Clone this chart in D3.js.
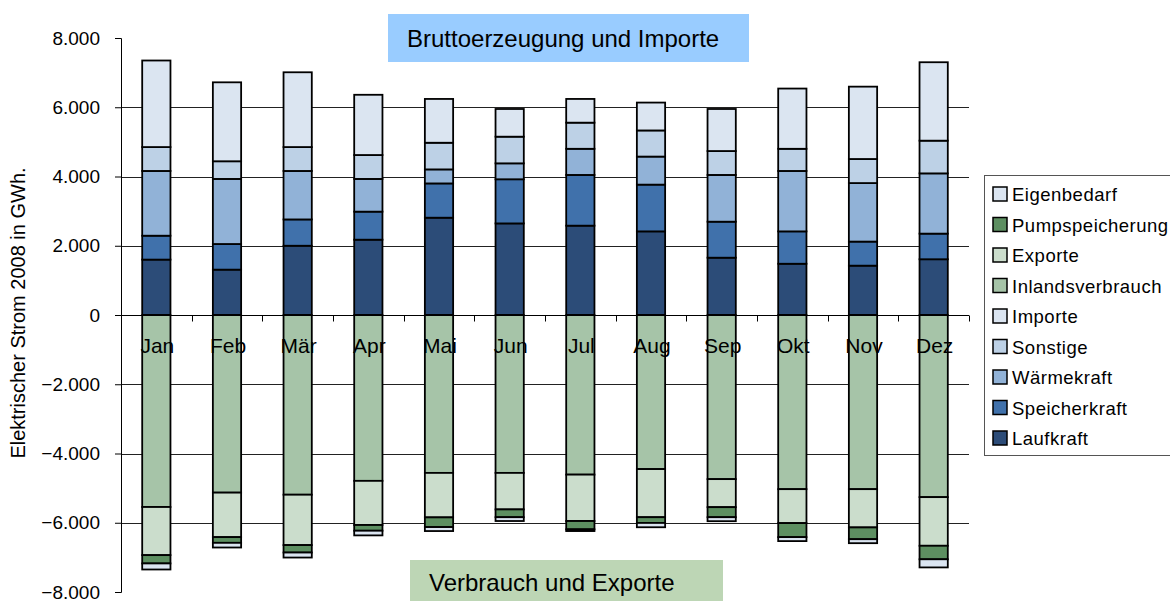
<!DOCTYPE html>
<html>
<head>
<meta charset="utf-8">
<script src="https://cdn.jsdelivr.net/npm/d3@7"></script>
<style>
  body { margin: 0; background: #fff; }
  text { font-family: "Liberation Sans", Arial, sans-serif; fill: #000; }
</style>
</head>
<body>
<svg width="1170" height="601"></svg>
<script>
// months + series (GWh)
var months = ["Jan", "Feb", "Mär", "Apr", "Mai", "Jun", "Jul", "Aug", "Sep", "Okt", "Nov", "Dez"];

var laufkraft       = [1600, 1310, 2000, 2175, 2810, 2645, 2580, 2415, 1655, 1480, 1425, 1610];
var speicherkraft   = [690, 740, 760, 810, 990, 1275, 1465, 1350, 1040, 935, 695, 740];
var waermekraft     = [1870, 1880, 1400, 945, 405, 460, 755, 810, 1350, 1745, 1690, 1740];
var sonstige        = [690, 510, 690, 690, 770, 770, 755, 755, 690, 640, 695, 945];
var importe         = [2500, 2280, 2160, 1740, 1265, 800, 685, 805, 1215, 1740, 2090, 2265];
var inlandsverbrauch = [-5545, -5130, -5190, -4790, -4560, -4560, -4610, -4450, -4740, -5030, -5030, -5260];
var exporte         = [-1390, -1285, -1455, -1275, -1285, -1055, -1340, -1390, -810, -980, -1105, -1405];
var pumpspeicherung = [-240, -165, -215, -165, -280, -225, -240, -165, -290, -405, -340, -390];
var eigenbedarf     = [-175, -135, -145, -135, -115, -110, -50, -125, -115, -115, -115, -235];

var yTicks = [-8000, -6000, -4000, -2000, 0, 2000, 4000, 6000, 8000];

var seriesNames = ["Laufkraft", "Speicherkraft", "Wärmekraft", "Sonstige", "Importe",
                   "Inlandsverbrauch", "Exporte", "Pumpspeicherung", "Eigenbedarf"];
var seriesValues = [laufkraft, speicherkraft, waermekraft, sonstige, importe,
                    inlandsverbrauch, exporte, pumpspeicherung, eigenbedarf];
var colors = ["#2c4c78", "#4071ab", "#91b2d7", "#bdd1e6", "#dbe5f1",
              "#a6c4a8", "#cbddcc", "#5d8f61", "#dbe5f1"];
var legendOrder = ["Eigenbedarf", "Pumpspeicherung", "Exporte", "Inlandsverbrauch",
                   "Importe", "Sonstige", "Wärmekraft", "Speicherkraft", "Laufkraft"];

var rows = months.map(function(m, i) {
  var r = {month: m};
  seriesNames.forEach(function(s, j) { r[s] = seriesValues[j][i]; });
  return r;
});

var svg = d3.select("svg");
var plotLeft = 121, plotRight = 969, plotTop = 38, plotBottom = 592;

var x = d3.scaleBand().domain(months).range([plotLeft, plotRight])
  .paddingInner(0.6).paddingOuter(0.3);
var y = d3.scaleLinear().domain([-8000, 8000]).range([plotBottom, plotTop]);

// gridlines
svg.append("g").selectAll("line")
  .data(yTicks.filter(function(d) { return d != 0 && Math.abs(d) != 8000; }))
  .enter().append("line")
  .attr("x1", plotLeft).attr("x2", plotRight)
  .attr("y1", function(d) { return Math.round(y(d)) + 0.5; })
  .attr("y2", function(d) { return Math.round(y(d)) + 0.5; })
  .attr("stroke", "#222").attr("stroke-width", 1);

// title boxes
svg.append("rect").attr("x", 388).attr("y", 14).attr("width", 361).attr("height", 48).attr("fill", "#99ccff");
svg.append("text").attr("x", 407).attr("y", 47).style("font-size", "24px").text("Bruttoerzeugung und Importe");
svg.append("rect").attr("x", 410).attr("y", 560).attr("width", 313).attr("height", 41).attr("fill", "#bdd6b5");
svg.append("text").attr("x", 429).attr("y", 591).style("font-size", "24px").text("Verbrauch und Exporte");

// stacked bars
var stack = d3.stack().keys(seriesNames).offset(d3.stackOffsetDiverging);
var layers = stack(rows);

svg.append("g").selectAll("g")
  .data(layers)
  .enter().append("g")
  .attr("fill", function(d, i) { return colors[i]; })
  .selectAll("rect")
  .data(function(d) { return d; })
  .enter().append("rect")
  .attr("x", function(d) { return x(d.data.month); })
  .attr("width", x.bandwidth())
  .attr("y", function(d) { return y(Math.max(d[0], d[1])); })
  .attr("height", function(d) { return Math.abs(y(d[0]) - y(d[1])); })
  .attr("stroke", "#000")
  .attr("stroke-width", 1.8);

// y axis
var yAxis = svg.append("g")
  .attr("transform", "translate(" + plotLeft + ",0)")
  .call(d3.axisLeft(y).tickValues(yTicks).tickSize(6).tickPadding(15)
    .tickFormat(function(d) { return d3.format(",")(d).replace(/,/g, "."); }));
yAxis.select(".domain").attr("stroke", "#000");
yAxis.selectAll("line").attr("stroke", "#000");
yAxis.selectAll("text").style("font-size", "19px")
  .style("font-family", "'Liberation Sans', Arial, sans-serif");

// x axis on zero line, ticks at category boundaries
var zeroY = Math.round(y(0)) + 0.5;
svg.append("line").attr("x1", plotLeft).attr("x2", plotRight)
  .attr("y1", zeroY).attr("y2", zeroY).attr("stroke", "#000");
var bounds = months.map(function(m) { return x(m) - x.step() * x.paddingOuter(); });
bounds.push(plotRight);
svg.append("g").selectAll("line")
  .data(bounds).enter().append("line")
  .attr("x1", function(d) { return Math.round(d) + 0.5; })
  .attr("x2", function(d) { return Math.round(d) + 0.5; })
  .attr("y1", zeroY).attr("y2", zeroY + 6)
  .attr("stroke", "#000");

// month labels (drawn over the bars)
svg.append("g").selectAll("text")
  .data(months).enter().append("text")
  .attr("x", function(d) { return x(d) + x.bandwidth() / 2 + 1; })
  .attr("y", 353)
  .attr("text-anchor", "middle")
  .style("font-size", "21px")
  .text(function(d) { return d; });

// y axis title
svg.append("text")
  .attr("transform", "translate(25,313) rotate(-90)")
  .attr("text-anchor", "middle")
  .style("font-size", "20px")
  .text("Elektrischer Strom 2008 in GWh.");

// legend
var lg = svg.append("g");
lg.append("rect").attr("x", 984.5).attr("y", 175.5).attr("width", 200).attr("height", 280)
  .attr("fill", "#fff").attr("stroke", "#555");
var item = lg.selectAll("g.item")
  .data(legendOrder).enter().append("g")
  .attr("class", "item")
  .attr("transform", function(d, i) { return "translate(0," + (194 + i * 30.5) + ")"; });
item.append("rect").attr("x", 993).attr("y", -7).attr("width", 14).attr("height", 14)
  .attr("fill", function(d) { return colors[seriesNames.indexOf(d)]; })
  .attr("stroke", "#000").attr("stroke-width", 1.5);
item.append("text").attr("x", 1012).attr("y", 7)
  .style("font-size", "18.5px").style("letter-spacing", "0.5px")
  .text(function(d) { return d; });
</script>
</body>
</html>
